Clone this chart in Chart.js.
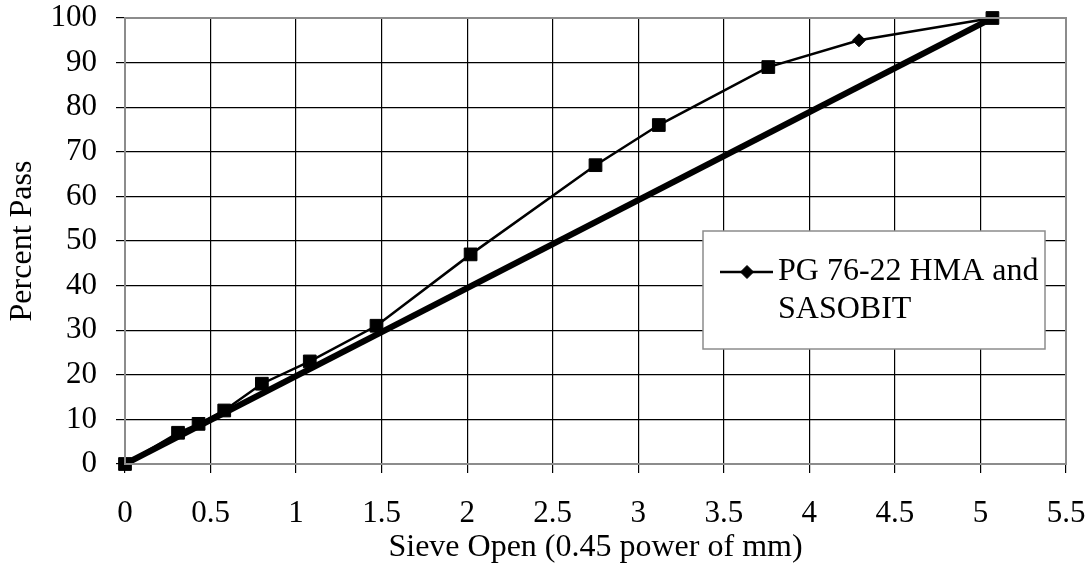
<!DOCTYPE html>
<html>
<head>
<meta charset="utf-8">
<script src="https://cdn.jsdelivr.net/npm/chart.js@4/dist/chart.umd.min.js"></script>
<style>
  html, body { margin: 0; padding: 0; background: #fff; }
  #wrap { width: 1090px; height: 567px; }
</style>
</head>
<body>
<div id="wrap"><canvas id="gradChart" width="1090" height="567"></canvas></div>
<script>
// sieve opening raised to 0.45 power, and percent passing
const sieveX = [0, 0.31, 0.43, 0.58, 0.8, 1.08, 1.47, 2.02, 2.75, 3.12, 3.76, 4.29, 5.07];
const passY = [0, 7, 9, 12, 18, 23, 31, 47, 67, 76, 89, 95, 100];
const markStyle = ["rect","rect","rect","rect","rect","rect","rect","rect","rect","rect","rect","rectRot","rect"];

// maximum density line
const maxX = [0, 5.07];
const maxY = [0, 100];

const xTicks = [0, 0.5, 1, 1.5, 2, 2.5, 3, 3.5, 4, 4.5, 5, 5.5];
const seriesName = ["PG 76-22 HMA and", "SASOBIT"];

const FONT = "'Liberation Serif', 'Times New Roman', serif";

function toPoints(xs, ys) {
    return xs.map((x, i) => ({ x: x, y: ys[i] }));
}

// gray frame round the plot area
const frame = {
    id: "frame",
    afterDatasetsDraw(chart) {
        const a = chart.chartArea, c = chart.ctx;
        c.save();
        c.strokeStyle = "#8c8c8c";
        c.lineWidth = 2;
        c.strokeRect(a.left, a.top, a.right - a.left, a.bottom - a.top);
        c.restore();
    }
};

// legend box drawn inside the plot
const boxLegend = {
    id: "boxLegend",
    afterDraw(chart) {
        const a = chart.chartArea, c = chart.ctx;
        const ds = chart.data.datasets[0];
        const bx = a.left + 578, by = a.top + 213, bw = 342, bh = 118;
        c.save();
        c.fillStyle = "#fff";
        c.fillRect(bx, by, bw, bh);
        c.strokeStyle = "#8c8c8c";
        c.lineWidth = 1.5;
        c.strokeRect(bx, by, bw, bh);
        const ly = by + 41;
        c.strokeStyle = ds.borderColor;
        c.lineWidth = ds.borderWidth;
        c.beginPath();
        c.moveTo(bx + 17, ly);
        c.lineTo(bx + 70, ly);
        c.stroke();
        c.fillStyle = "#000";
        c.lineWidth = 1;
        Chart.helpers.drawPoint(c, { pointStyle: "rectRot", radius: 6.5, borderWidth: 1 }, bx + 44, ly);
        c.font = "32px " + FONT;
        c.textBaseline = "middle";
        c.fillText(seriesName[0], bx + 75, ly);
        c.fillText(seriesName[1], bx + 75, ly + 38);
        c.restore();
    }
};

const ctx = document.getElementById("gradChart");

new Chart(ctx, {
    type: "scatter",
    data: {
        datasets: [{
            label: seriesName.join(" "),
            data: toPoints(sieveX, passY),
            showLine: true,
            clip: false,
            borderColor: "#000",
            backgroundColor: "#000",
            borderWidth: 2.5,
            pointStyle: markStyle,
            pointRadius: markStyle.map(s => s === "rect" ? 9 : 6.5),
            pointBorderWidth: 1,
            order: 1
        }, {
            label: "max density",
            data: toPoints(maxX, maxY),
            showLine: true,
            clip: false,
            borderColor: "#000",
            borderWidth: 6,
            pointRadius: 0,
            order: 2
        }]
    },
    options: {
        responsive: false,
        animation: false,
        layout: { padding: { top: 18, right: 24, left: 0, bottom: 0 } },
        plugins: { legend: { display: false }, tooltip: { enabled: false } },
        scales: {
            x: {
                type: "linear",
                min: 0,
                max: 5.5,
                afterFit(s) {
                    s.height = 103;
                    s.paddingLeft = 0;
                    s.paddingRight = 0;
                },
                afterBuildTicks(s) { s.ticks = xTicks.map(v => ({ value: v })); },
                grid: { color: "#000", lineWidth: 1.2, tickLength: 9, tickColor: "#000" },
                border: { display: false },
                ticks: {
                    color: "#000",
                    font: { family: FONT, size: 31 },
                    padding: 22,
                    maxRotation: 0,
                    callback: v => String(v)
                },
                title: {
                    display: true,
                    text: "Sieve Open (0.45 power of mm)",
                    color: "#000",
                    font: { family: FONT, size: 32 },
                    padding: { top: 0, bottom: 0 }
                }
            },
            y: {
                min: 0,
                max: 100,
                afterFit(s) {
                    s.width = 125;
                    s.paddingTop = 0;
                    s.paddingBottom = 0;
                },
                grid: { color: "#000", lineWidth: 1.2, tickLength: 9, tickColor: "#000" },
                border: { display: false },
                ticks: { stepSize: 10, color: "#000", font: { family: FONT, size: 31 }, padding: 19 },
                title: {
                    display: true,
                    text: "Percent Pass",
                    color: "#000",
                    font: { family: FONT, size: 32 },
                    padding: { top: 3, bottom: 0 }
                }
            }
        }
    },
    plugins: [frame, boxLegend]
});
</script>
</body>
</html>
